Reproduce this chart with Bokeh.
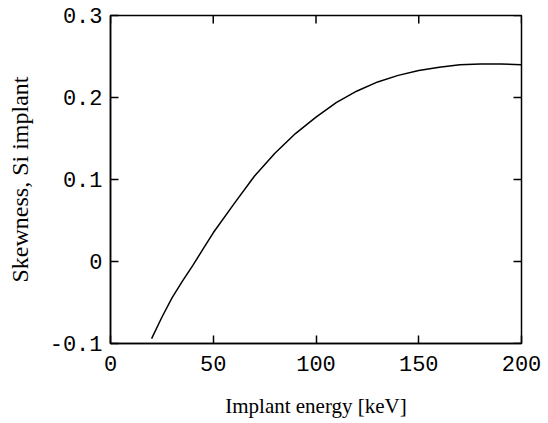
import math
from bokeh.plotting import figure
from bokeh.models import FixedTicker, Range1d
from bokeh.embed import file_html
from bokeh.resources import INLINE

energy = [20, 25, 30, 35, 40, 45, 50, 60, 70, 80, 90, 100, 110, 120, 130, 140, 150, 160, 170, 180, 190, 200]
skewness = [-0.094, -0.068, -0.044, -0.024, -0.005, 0.015, 0.035, 0.070, 0.104, 0.132, 0.156, 0.176, 0.194, 0.208, 0.219, 0.227, 0.233, 0.237, 0.240, 0.241, 0.241, 0.240]

x_ticks = [0, 50, 100, 150, 200]
x_labels = ["0", "50", "100", "150", "200"]
y_ticks = [-0.1, 0, 0.1, 0.2, 0.3]
y_labels = ["-0.1", "0", "0.1", "0.2", "0.3"]

X_MIN, X_MAX = 0, 200
Y_MIN, Y_MAX = -0.1, 0.3

p = figure(width=545, height=423, output_backend="svg", toolbar_location=None,
           x_range=Range1d(X_MIN, X_MAX), y_range=Range1d(Y_MIN, Y_MAX),
           min_border_left=110, min_border_right=24, min_border_top=15, min_border_bottom=80,
           x_axis_label="Implant energy [keV]", y_axis_label="Skewness, Si implant")
p.line(energy, skewness, line_color="black", line_width=1.5)

# mirrored inward ticks on top and right edges (clipped to the frame)
p.scatter(x=x_ticks, y=[Y_MAX] * len(x_ticks), marker="dash", size=16,
          angle=math.pi / 2, line_color="black", line_width=1.5)
p.scatter(x=[X_MAX] * len(y_ticks), y=y_ticks, marker="dash", size=16,
          line_color="black", line_width=1.5)

p.grid.visible = False
p.outline_line_color = "black"
p.outline_line_width = 1.5
p.background_fill_color = "white"
p.border_fill_color = "white"

for ax in (p.xaxis[0], p.yaxis[0]):
    ax.axis_line_color = "black"
    ax.axis_line_width = 1.5
    ax.major_tick_in = 8
    ax.major_tick_out = 0
    ax.major_tick_line_color = "black"
    ax.major_tick_line_width = 1.5
    ax.minor_tick_line_color = None
    ax.major_label_text_font = "Liberation Mono"
    ax.major_label_text_font_size = "22px"
    ax.major_label_text_color = "black"
    ax.axis_label_text_font = "Liberation Serif"
    ax.axis_label_text_font_style = "normal"
    ax.axis_label_text_color = "black"

xa = p.xaxis[0]
xa.ticker = FixedTicker(ticks=x_ticks)
xa.major_label_overrides = {t: l for t, l in zip(x_ticks, x_labels)}
xa.major_label_standoff = 12
xa.axis_label_standoff = 20
xa.axis_label_text_font_size = "21px"

ya = p.yaxis[0]
ya.ticker = FixedTicker(ticks=y_ticks)
ya.major_label_overrides = {t: l for t, l in zip(y_ticks, y_labels)}
ya.major_label_standoff = 8
ya.axis_label_standoff = 14
ya.axis_label_text_font_size = "24px"

open("out.html", "w").write(file_html(p, INLINE))
